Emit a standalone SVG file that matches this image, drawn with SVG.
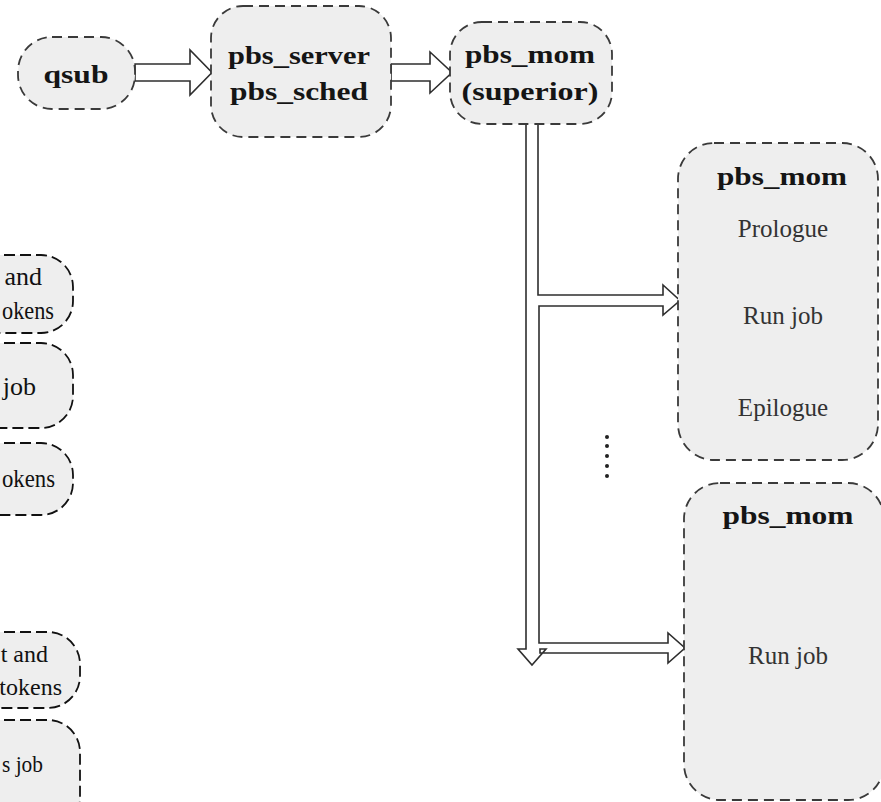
<svg xmlns="http://www.w3.org/2000/svg" width="881" height="802" viewBox="0 0 881 802">
  <style>
    .node { fill: #eeeeee; stroke: #3a3a3a; stroke-width: 1.8; stroke-dasharray: 10 6; }
    .side { fill: #eeeeee; stroke: #111111; stroke-width: 1.8; stroke-dasharray: 11 5; }
    .bold { font-family: "Liberation Serif", "Times New Roman", serif; font-weight: bold; font-size: 26px; fill: #151515; text-anchor: middle; }
    .reg { font-family: "Liberation Serif", "Times New Roman", serif; font-size: 25px; fill: #333333; text-anchor: middle; }
    .cut { font-family: "Liberation Serif", "Times New Roman", serif; font-size: 26px; fill: #111111; text-anchor: end; }
    .cut.small { font-size: 24px; }
    .arrow { fill: #ffffff; stroke: #2e2e2e; stroke-width: 1.6; stroke-linejoin: miter; }
    .dot { fill: #222222; }
  </style>

  <!-- connectors -->
  <g id="connectors">
    <path class="arrow" d="M135,64 H190 V50 L212,72.5 L190,95 V81 H135 Z"/>
    <path class="arrow" d="M391,64 H430 V52 L452,72.5 L430,93 V81 H391 Z"/>
    <!-- fan-out from the superior mom to the sister moms -->
    <path class="arrow" d="M526,125 V649 H518 L532,665 L546,649 H540 V653 H668 V663 L685,648 L668,633 V643 H539 V306 H663 V315 L680,300.5 L663,285 V295 H538 V125"/>
    <g id="ellipsis">
      <circle class="dot" cx="607" cy="437" r="2"/>
      <circle class="dot" cx="607" cy="446" r="2"/>
      <circle class="dot" cx="607" cy="456" r="2"/>
      <circle class="dot" cx="607" cy="466" r="2"/>
      <circle class="dot" cx="607" cy="476" r="2"/>
    </g>
  </g>

  <g id="qsub">
    <rect class="node" x="18" y="37" width="117" height="72" rx="34"/>
    <text class="bold" x="76" y="83" textLength="65" lengthAdjust="spacingAndGlyphs">qsub</text>
  </g>

  <g id="pbs_server">
    <rect class="node" x="211" y="6" width="180" height="131" rx="32"/>
    <text class="bold" x="299" y="64" textLength="142" lengthAdjust="spacingAndGlyphs">pbs_server</text>
    <text class="bold" x="299" y="100" textLength="138" lengthAdjust="spacingAndGlyphs">pbs_sched</text>
  </g>

  <g id="pbs_mom_superior">
    <rect class="node" x="450" y="22" width="162" height="102" rx="32"/>
    <text class="bold" x="530" y="63" textLength="130" lengthAdjust="spacingAndGlyphs">pbs_mom</text>
    <text class="bold" x="530" y="100" textLength="137" lengthAdjust="spacingAndGlyphs">(superior)</text>
  </g>

  <g id="pbs_mom_sister1">
    <rect class="node" x="678" y="143" width="200" height="317" rx="36"/>
    <text class="bold" x="782" y="185" textLength="130" lengthAdjust="spacingAndGlyphs">pbs_mom</text>
    <text class="reg" x="783" y="237">Prologue</text>
    <text class="reg" x="783" y="324">Run job</text>
    <text class="reg" x="783" y="416">Epilogue</text>
  </g>

  <g id="pbs_mom_sister2">
    <rect class="node" x="684" y="483" width="200" height="317" rx="36"/>
    <text class="bold" x="788" y="524" textLength="131" lengthAdjust="spacingAndGlyphs">pbs_mom</text>
    <text class="reg" x="788" y="664">Run job</text>
  </g>

  <!-- left-hand column, cut by the edge of the figure -->
  <g id="left_a">
    <rect class="side" x="-60" y="255" width="133" height="78" rx="32"/>
    <text class="cut" x="42" y="285">and</text>
    <text class="cut" x="54" y="319" textLength="52" lengthAdjust="spacingAndGlyphs">okens</text>
  </g>
  <g id="left_b">
    <rect class="side" x="-60" y="343" width="133" height="85" rx="32"/>
    <text class="cut" x="36" y="395">job</text>
  </g>
  <g id="left_c">
    <rect class="side" x="-60" y="443" width="133" height="72" rx="32"/>
    <text class="cut" x="55" y="487" textLength="53" lengthAdjust="spacingAndGlyphs">okens</text>
  </g>
  <g id="left_d">
    <rect class="side" x="-60" y="632" width="140" height="76" rx="32"/>
    <text class="cut small" x="48" y="662">t and</text>
    <text class="cut small" x="62" y="695">tokens</text>
  </g>
  <g id="left_e">
    <rect class="side" x="-60" y="720" width="140" height="110" rx="32"/>
    <text class="cut small" x="43" y="772" textLength="41" lengthAdjust="spacingAndGlyphs">s job</text>
  </g>
</svg>
